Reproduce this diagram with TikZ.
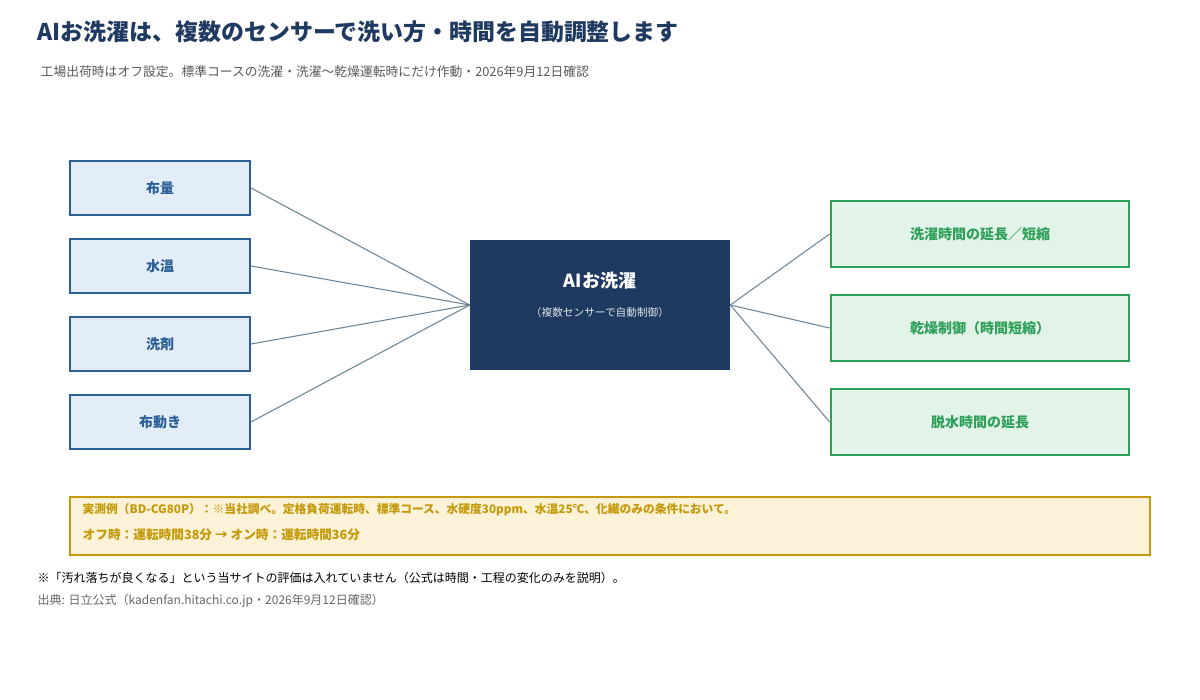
\documentclass[tikz,border=0pt]{standalone}
\usepackage{fontspec}
\setmainfont{Noto Sans CJK JP}
\definecolor{navy}{HTML}{1F3A60}
\definecolor{lblue}{HTML}{E3EDF8}
\definecolor{bblue}{HTML}{2B5F97}
\definecolor{lgreen}{HTML}{E2F3E8}
\definecolor{bgreen}{HTML}{2EA05A}
\definecolor{lyel}{HTML}{FCF2D8}
\definecolor{byel}{HTML}{C49A0A}
\definecolor{line}{HTML}{6F8494}
\begin{document}
\begin{tikzpicture}[x=0.75pt,y=-0.75pt,
 inb/.style={draw=bblue,fill=lblue,line width=1.5pt,minimum width=135pt,minimum height=41pt,text=bblue,font=\fontsize{10.5}{12}\selectfont\bfseries},
 outb/.style={draw=bgreen,fill=lgreen,line width=1.5pt,minimum width=224pt,minimum height=50pt,text=bgreen,font=\fontsize{10.5}{12}\selectfont\bfseries},
 conn/.style={draw=line,line width=0.8pt}]
\useasboundingbox (0,0) rectangle (1200,700);
\node[anchor=west,text=navy,font=\fontsize{17.2}{20}\selectfont\bfseries] (t) at (33,32) {AIお洗濯は、複数のセンサーで洗い方・時間を自動調整します};
\node[anchor=west,text=black!65,font=\fontsize{9.6}{11}\selectfont] (s) at (36,72) {工場出荷時はオフ設定。標準コースの洗濯・洗濯〜乾燥運転時にだけ作動・2026年9月12日確認};
\node[inb] (a) at (160,188) {布量};
\node[inb] (b) at (160,266) {水温};
\node[inb] (c) at (160,344) {洗剤};
\node[inb] (d) at (160,422) {布動き};
\node[fill=navy,minimum width=195pt,minimum height=97pt] (m) at (600,305) {};
\node[text=white,font=\fontsize{13.5}{16}\selectfont\bfseries] (m1) at (600,281) {AIお洗濯};
\node[text=white!85!navy,font=\fontsize{8}{9}\selectfont] (m2) at (600,312) {（複数センサーで自動制御）};
\node[outb] (e) at (980,234) {洗濯時間の延長／短縮};
\node[outb] (f) at (980,328) {乾燥制御（時間短縮）};
\node[outb] (g) at (980,422) {脱水時間の延長};
\foreach \n in {a,b,c,d} \draw[conn] (\n.east) -- (m.west);
\foreach \n in {e,f,g} \draw[conn] (m.east) -- (\n.west);
\node[draw=byel,fill=lyel,line width=1.5pt,minimum width=810pt,minimum height=44pt] (y) at (610,526) {};
\node[anchor=west,text=byel,font=\fontsize{8.8}{10}\selectfont\bfseries] (y1) at (78,510) {実測例（BD-CG80P）：※当社調べ。定格負荷運転時、標準コース、水硬度30ppm、水温25℃、化繊のみの条件において。};
\node[anchor=west,text=byel,font=\fontsize{9.5}{11}\selectfont\bfseries] (y2) at (78,535) {オフ時：運転時間38分 → オン時：運転時間36分};
\node[anchor=west,text=black,font=\fontsize{9}{10}\selectfont] (n1) at (33,578) {※「汚れ落ちが良くなる」という当サイトの評価は入れていません（公式は時間・工程の変化のみを説明）。};
\node[anchor=west,text=black!60,font=\fontsize{9}{10}\selectfont] (n2) at (33,601) {出典: 日立公式（kadenfan.hitachi.co.jp・2026年9月12日確認）};
\end{tikzpicture}
\end{document}
